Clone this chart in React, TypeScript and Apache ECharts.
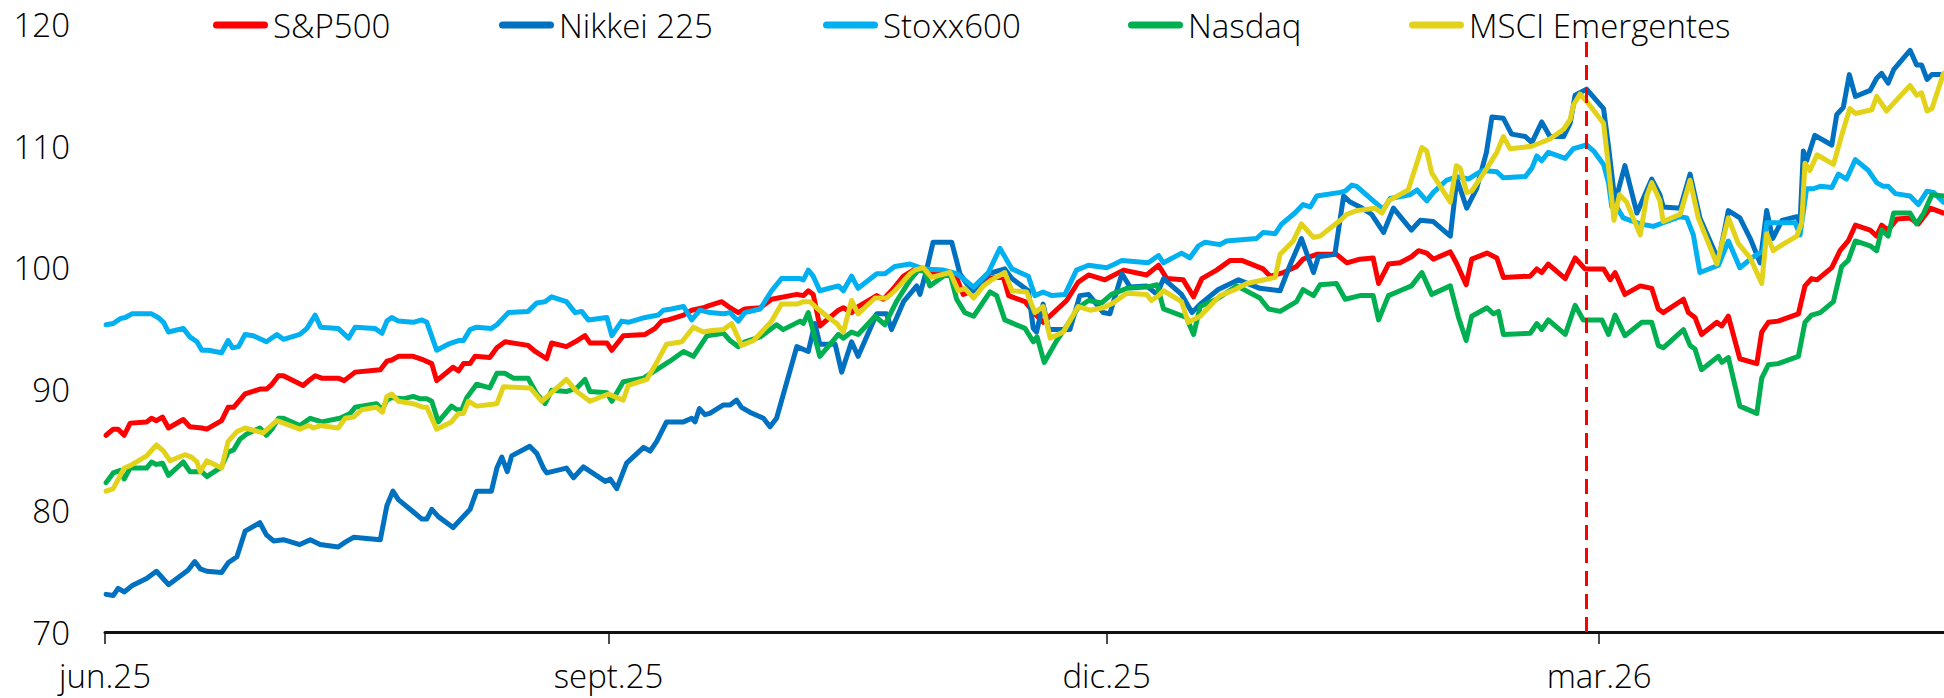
import React, { useEffect, useRef } from "react";
import * as echarts from "echarts";

// x values: days elapsed since 1 June 2025
const tickDays = [0, 92, 183, 273];
const tickLabels = ["jun.25", "sept.25", "dic.25", "mar.26"];
const yTicks = [70, 80, 90, 100, 110, 120];
const markerDay = 270.6; // vertical dashed reference (late Feb 2026)
const markerTop = 119.3;

const seriesNames = ["S&P500", "Nikkei 225", "Stoxx600", "Nasdaq", "MSCI Emergentes"];
const seriesColors = ["#FF0000", "#0070C0", "#00B0F0", "#00B050", "#E2D31A"];

const sp500 = [
[0.2,86.2],[1.5,86.7],[2.4,86.7],[3.5,86.2],[4.6,87.2],[7.6,87.3],[8.5,87.6],[9.4,87.4],[10.5,87.7],[11.6,86.8],[14.3,87.5],[15.5,86.9],[17.7,86.8],[18.6,86.7],[21.3,87.4],[22.5,88.5],[23.5,88.5],[25.6,89.6],[28.3,90.0],[29.5,90.0],[30.5,90.4],[31.7,91.1],[32.6,91.1],[36.2,90.3],[37.5,90.8],[38.4,91.1],[39.6,90.9],[42.6,90.9],[43.7,90.7],[45.7,91.4],[50.3,91.6],[51.5,92.3],[52.4,92.4],
[53.6,92.7],[56.3,92.7],[58.2,92.4],[59.7,92.1],[60.6,90.7],[63.6,91.8],[64.6,91.5],[65.5,92.1],[66.7,92.1],[67.6,92.7],[70.3,92.6],[71.6,93.4],[73.1,93.9],[77.3,93.6],[78.6,93.1],[80.7,92.5],[81.6,93.8],[84.3,93.5],[85.9,93.9],[87.7,94.4],[88.6,93.8],[91.7,93.8],[92.6,93.2],[94.7,94.4],[98.7,94.5],[100.5,95.0],[101.7,95.6],[102.9,95.7],[105.7,96.1],[107.2,96.5],[109.3,96.7],[110.5,96.9],
[112.7,97.2],[114.2,96.7],[115.7,96.3],[116.9,96.6],[119.7,96.7],[121.8,97.4],[126.4,97.8],[127.6,97.7],[128.5,98.1],[129.4,97.8],[130.6,95.2],[134.0,96.5],[134.9,96.7],[136.4,96.3],[137.6,96.8],[141.0,97.7],[142.2,97.4],[143.7,98.1],[145.9,99.3],[147.7,99.8],[149.5,99.8],[151.0,99.5],[155.3,99.5],[156.8,97.8],[158.7,98.1],[161.4,99.1],[164.1,99.3],[165.1,97.7],[168.1,97.2],[169.9,96.2],
[171.4,95.5],[175.7,97.3],[177.8,98.8],[179.7,99.4],[182.7,99.0],[186.1,99.8],[190.3,99.4],[192.5,100.2],[194.0,99.1],[197.0,99.0],[198.9,97.6],[200.4,99.1],[203.1,99.8],[205.6,100.6],[207.7,100.6],[211.6,99.9],[212.9,99.3],[215.3,99.6],[217.7,100.1],[218.9,100.7],[221.4,101.1],[225.0,101.1],[226.9,100.4],[229.3,100.7],
[231.7,100.8],[232.7,98.7],[234.5,100.3],[236.6,100.4],[238.7,100.9],[240.0,101.4],[241.5,101.2],[242.7,100.7],[245.8,101.3],[247.0,100.3],[248.7,98.6],[249.7,100.7],[252.5,101.2],[254.3,100.8],[255.5,99.2],[260.4,99.3],[261.6,99.9],[262.5,99.6],[263.7,100.3],[266.8,99.1],[268.6,100.8],[270.4,99.9],[273.8,99.9],[275.0,99.0],[275.9,99.6],[277.7,97.8],[280.5,98.5],[282.6,98.3],[283.8,96.6],
[284.7,96.3],[288.4,97.4],[289.3,96.3],[290.5,95.9],[291.7,94.5],[294.5,95.5],[295.4,95.2],[296.6,96.0],[298.7,92.5],[301.8,92.1],[302.7,94.7],[303.9,95.5],[305.7,95.6],[309.4,96.2],[310.6,98.5],[311.8,99.1],[312.8,99.0],[315.5,100.0],[317.0,101.4],[318.5,102.2],[319.8,103.5],[322.5,103.1],[323.7,102.6],[324.6,103.5],[325.8,103.1],[327.4,104.0],[329.8,104.1],[331.3,103.6],[333.5,104.9],[335.9,104.5]
];

const nikkei = [
[0.2,73.1],[1.5,73.0],[2.4,73.6],[3.5,73.3],[4.9,73.8],[7.6,74.4],[9.4,75.0],[11.6,73.9],[14.3,74.8],[15.2,75.1],[16.4,75.8],[17.4,75.2],[18.6,75.0],[21.3,74.9],[22.5,75.7],[24.1,76.2],[25.6,78.3],[28.3,79.0],[29.5,78.0],[30.8,77.5],[32.6,77.6],[35.6,77.2],[37.5,77.6],[39.3,77.2],[42.6,77.0],[43.9,77.4],[45.4,77.8],[50.3,77.6],[51.5,80.4],[52.6,81.6],
[53.6,80.9],[56.3,79.9],[57.9,79.3],[58.8,79.3],[59.7,80.1],[60.9,79.5],[63.6,78.6],[66.7,80.1],[67.9,81.6],[70.6,81.6],[71.6,83.5],[72.5,84.4],[73.5,83.2],[74.3,84.5],[77.6,85.3],[78.9,84.7],[80.1,83.5],[80.7,83.1],[84.3,83.5],[85.6,82.7],[87.4,83.6],[91.4,82.4],[92.3,82.6],[93.5,81.8],[95.3,83.9],[98.4,85.2],[99.6,84.9],[100.8,85.7],[102.6,87.3],[105.7,87.3],[107.2,87.6],[107.8,87.3],[108.6,88.4],[109.6,87.9],
[110.5,88.0],[113.0,88.7],[114.2,88.7],[115.4,89.1],[116.3,88.5],[117.8,88.1],[120.3,87.6],[121.5,86.9],[122.7,87.6],[126.4,93.5],[128.5,93.1],[129.7,95.4],[130.6,93.7],[133.4,93.7],[134.6,91.4],[136.4,93.9],[137.6,92.7],[141.0,96.2],[142.8,96.2],[143.7,94.9],[145.9,97.2],[148.3,98.5],[148.9,97.8],[150.1,99.8],[151.3,102.1],[154.7,102.1],[156.2,99.5],[157.7,98.5],[158.7,98.1],[161.4,99.5],[164.4,99.9],[165.7,99.1],[168.7,98.1],[169.6,95.0],
[170.2,94.7],[171.4,97.0],[172.4,94.9],[176.3,94.9],[178.1,97.7],[179.7,97.8],[182.4,96.3],[183.6,96.2],[185.8,99.5],[187.3,98.4],[190.3,98.5],[192.2,97.8],[193.4,99.1],[196.7,97.8],[198.6,96.3],[200.1,97.0],[203.4,98.2],[207.1,99.0],[211.0,98.3],[214.7,98.1],[216.5,100.2],[218.6,102.4],[220.8,99.6],[221.7,100.9],[224.7,101.1],[226.3,105.9],[227.5,105.4],[229.3,105.0],
[231.4,104.4],[233.6,102.9],[235.4,104.9],[238.7,103.1],[240.3,103.9],[242.7,103.8],[245.8,102.6],[247.0,107.3],[248.8,104.9],[250.6,106.5],[252.4,109.5],[253.4,112.4],[255.5,112.3],[257.0,111.0],[259.5,110.8],[260.7,110.3],[262.5,112.0],[264.0,110.8],[266.5,110.8],[267.7,111.9],[268.6,114.2],[270.7,114.7],[273.8,113.1],[274.7,110.0],[275.9,105.4],[277.7,108.4],[279.9,104.5],[282.6,107.3],[284.1,106.0],
[284.7,105.0],[287.8,104.9],[289.6,107.7],[291.4,104.1],[294.8,100.6],[296.6,104.7],[298.7,104.1],[300.6,102.4],[302.4,100.4],[303.6,104.7],[304.7,102.4],[306.4,103.9],[309.1,104.2],[309.7,103.7],[310.3,109.6],[310.9,108.8],[312.4,110.9],[315.5,110.1],[316.4,112.6],[317.6,113.2],[318.7,115.9],[319.8,114.1],[322.5,114.6],[323.7,115.6],[324.6,116.0],[325.8,115.2],[326.8,116.3],[329.8,117.9],[331.0,116.7],[331.9,116.7],[332.9,115.5],[333.8,115.9],[335.9,115.9]
];

const stoxx600 = [
[0.2,95.3],[1.5,95.4],[2.8,95.8],[3.7,95.9],[4.9,96.2],[8.5,96.2],[9.7,95.9],[10.7,95.5],[11.6,94.7],[14.3,95.0],[15.5,94.3],[16.8,93.9],[17.7,93.2],[18.9,93.2],[21.3,93.0],[22.5,94.0],[23.3,93.4],[24.4,93.5],[25.6,94.5],[27.1,94.4],[29.5,93.9],[31.4,94.5],[32.6,94.1],[35.6,94.5],[36.9,95.0],[38.4,96.1],[39.4,95.1],[42.6,95.0],[44.5,94.2],[45.7,95.1],[49.3,95.0],[50.6,94.6],[51.5,95.6],[52.4,95.9],
[53.6,95.6],[56.3,95.5],[57.9,95.7],[58.8,95.5],[60.6,93.2],[62.7,93.7],[64.6,94.0],[65.5,94.0],[66.7,94.9],[67.9,95.1],[70.6,95.0],[71.6,95.3],[73.7,96.3],[77.3,96.4],[78.9,97.1],[80.4,97.2],[81.6,97.6],[84.3,97.2],[85.9,96.3],[87.1,96.4],[88.3,95.7],[91.7,95.9],[92.6,94.4],[94.4,95.6],[95.6,95.5],[98.7,95.9],[101.1,96.1],[102.0,96.5],[103.5,96.6],[105.7,96.8],[107.2,95.7],[108.7,96.5],[110.5,96.3],
[113.0,96.2],[114.2,96.3],[115.7,95.6],[116.9,96.3],[119.7,96.6],[121.8,98.1],[123.6,99.1],[127.0,99.1],[127.6,99.0],[128.5,99.8],[129.4,99.3],[130.6,98.1],[134.0,98.5],[134.9,98.1],[136.4,99.3],[137.6,98.3],[141.0,99.5],[142.5,99.5],[144.3,100.1],[147.1,100.3],[149.5,99.9],[153.2,99.8],[155.6,99.5],[156.8,99.1],[158.7,98.4],[161.4,99.6],[163.5,101.6],[165.7,99.9],[168.7,99.3],[169.9,97.7],
[171.4,98.0],[173.0,97.7],[175.4,97.8],[177.5,99.8],[179.7,100.2],[183.0,100.0],[184.5,100.3],[185.8,100.6],[190.6,100.4],[192.5,101.0],[193.4,100.4],[196.7,101.2],[198.2,100.8],[199.8,101.8],[201.0,102.1],[203.7,101.9],[204.9,102.2],[210.4,102.4],[211.6,102.9],[213.8,102.8],[215.0,103.6],[217.4,104.5],[218.9,105.2],[220.2,105.0],[221.4,105.9],[225.7,106.2],[226.6,106.3],[227.8,106.8],
[228.7,106.7],[232.0,105.4],[233.6,104.8],[234.8,105.7],[238.4,106.0],[239.7,106.4],[241.5,105.5],[242.7,106.2],[245.1,107.2],[247.0,107.5],[249.1,107.3],[250.9,107.8],[251.8,108.0],[254.3,107.9],[255.5,107.4],[259.5,107.5],[260.7,108.2],[261.6,109.2],[262.5,108.8],[263.7,109.5],[266.8,109.0],[268.3,109.8],[270.7,110.1],[272.0,109.6],[273.8,108.5],[274.7,107.0],[275.3,105.0],[276.2,105.0],[277.4,104.1],[280.5,103.6],[282.9,103.4],
[284.7,103.7],[287.8,104.2],[289.0,104.1],[290.2,102.7],[291.4,99.6],[294.8,100.2],[296.6,102.2],[298.7,100.0],[300.9,100.8],[303.0,101.4],[303.6,103.7],[306.4,103.7],[308.8,103.7],[309.7,102.7],[310.9,106.5],[312.1,106.5],[313.4,106.7],[315.5,106.6],[316.7,107.7],[318.2,107.3],[319.8,108.9],[322.2,108.0],[323.7,107.0],[324.9,106.7],[325.8,106.7],[327.1,106.1],[329.8,105.9],[331.3,105.2],[332.9,106.3],[334.1,106.2],[335.9,105.4]
];

const nasdaq = [
[0.2,82.3],[1.5,83.1],[2.8,83.3],[3.5,82.6],[4.6,83.5],[7.6,83.5],[8.5,84.0],[9.4,83.8],[10.5,83.9],[11.6,82.9],[14.3,84.0],[15.5,83.2],[17.7,83.2],[18.6,82.8],[21.3,83.6],[22.5,84.8],[23.5,85.0],[24.7,85.9],[25.9,86.3],[28.3,86.8],[29.5,86.2],[30.5,86.7],[31.7,87.6],[32.6,87.6],[35.6,87.0],[37.5,87.6],[39.6,87.3],[42.9,87.6],[44.8,88.0],[45.7,88.5],[49.6,88.8],[50.6,88.3],[51.5,89.1],[52.4,89.3],
[54.5,89.2],[56.3,89.4],[57.6,89.2],[58.8,89.2],[59.7,89.0],[60.9,87.3],[63.3,88.6],[64.3,88.3],[65.2,88.3],[66.1,89.3],[67.9,90.4],[70.3,90.1],[71.6,91.3],[73.1,91.3],[74.6,90.9],[77.3,90.9],[78.9,89.6],[80.4,88.8],[81.6,89.9],[84.3,89.8],[86.2,90.1],[87.7,90.8],[88.6,89.8],[91.7,89.7],[92.6,89.0],[94.7,90.6],[98.4,90.9],[100.8,91.6],[103.2,92.3],[105.7,93.1],[107.5,92.7],[110.0,94.4],
[113.0,94.6],[114.2,94.0],[115.7,93.5],[116.9,93.9],[119.7,94.3],[122.7,95.3],[123.9,94.9],[127.0,95.6],[127.6,95.4],[128.5,96.3],[130.6,92.7],[134.0,94.5],[134.9,94.2],[136.4,94.7],[137.6,94.5],[140.7,96.0],[142.5,95.3],[144.6,97.2],[147.1,99.0],[148.6,99.8],[149.8,99.7],[150.7,98.5],[153.2,99.3],[154.4,99.5],[155.6,97.4],[157.1,96.3],[158.7,96.0],[161.7,98.0],[162.9,97.7],[164.4,95.7],[168.1,95.0],[169.6,93.9],
[170.3,94.3],[171.6,92.2],[173.9,94.0],[175.7,95.2],[177.8,96.7],[179.7,97.3],[182.1,97.1],[183.9,97.8],[186.7,98.3],[190.3,98.4],[192.2,98.6],[193.4,96.6],[197.6,95.9],[198.9,94.5],[200.1,96.8],[203.1,97.4],[206.8,98.5],[211.0,97.5],[212.6,96.6],[214.7,96.4],[217.7,97.2],[218.9,98.2],[220.8,97.7],[222.0,98.6],[225.0,98.7],[226.6,97.4],[229.3,97.7],
[231.7,97.7],[232.7,95.7],[234.5,97.7],[236.6,98.1],[238.7,98.5],[240.6,99.6],[242.4,97.8],[245.8,98.5],[247.3,95.9],[248.7,94.0],[249.7,96.0],[252.5,96.7],[253.7,96.2],[254.6,96.4],[255.5,94.5],[260.4,94.6],[261.6,95.4],[262.5,94.9],[263.7,95.7],[266.8,94.5],[268.6,96.9],[270.1,95.7],[273.5,95.7],[274.7,94.5],[275.9,96.1],[277.7,94.4],[280.8,95.5],[282.6,95.5],[283.8,93.6],
[284.7,93.4],[288.4,94.9],[289.6,93.6],[290.5,93.3],[291.7,91.6],[294.8,92.7],[295.4,92.2],[296.6,92.6],[298.7,88.6],[301.8,88.0],[302.7,90.9],[303.9,92.0],[305.7,92.1],[309.4,92.7],[310.6,95.5],[311.8,96.1],[313.4,96.3],[315.8,97.2],[317.3,100.1],[318.5,100.6],[319.8,102.2],[322.5,101.8],[323.7,101.4],[324.6,103.1],[325.8,102.6],[326.8,104.5],[329.8,104.5],[331.0,103.6],[332.3,104.5],[333.8,106.0],[335.9,105.9]
];

const msciEm = [
[0.2,81.6],[1.5,81.8],[3.5,83.5],[4.6,83.7],[7.6,84.5],[9.4,85.4],[10.7,84.9],[11.9,84.1],[14.6,84.6],[15.8,84.4],[16.8,84.0],[17.4,83.2],[18.6,84.1],[21.3,83.5],[22.5,85.7],[24.1,86.5],[25.6,86.8],[28.9,86.4],[31.4,87.4],[32.6,87.2],[35.6,86.7],[37.2,87.0],[38.1,86.8],[39.3,87.0],[42.6,86.8],[43.9,87.6],[45.4,87.7],[46.9,88.3],[49.6,88.5],[50.7,88.1],[51.5,89.4],[52.4,89.6],
[53.6,89.0],[56.3,88.8],[58.2,88.5],[58.8,88.5],[60.6,86.7],[63.3,87.3],[64.6,88.0],[65.5,88.0],[66.4,89.0],[67.9,88.6],[71.6,88.8],[72.8,90.2],[77.7,90.1],[79.8,89.0],[84.3,90.8],[86.2,89.8],[88.6,89.0],[92.0,89.6],[93.5,89.3],[94.7,89.1],[95.6,90.3],[99.0,90.8],[100.8,92.2],[102.6,93.7],[105.4,93.9],[107.5,95.1],[109.3,94.7],[110.5,94.8],
[113.0,94.9],[114.5,95.4],[116.3,93.6],[118.5,94.0],[121.8,95.6],[123.6,97.0],[126.4,97.0],[127.6,97.2],[128.8,97.2],[130.0,96.7],[132.2,95.9],[133.7,95.4],[134.9,94.7],[136.4,97.3],[137.6,96.2],[140.7,97.5],[142.8,97.5],[144.3,98.1],[147.1,99.5],[148.0,99.8],[149.5,100.0],[151.0,99.2],[154.4,99.6],[155.9,98.1],[157.1,98.3],[158.7,97.5],[160.5,98.5],[162.0,99.0],[164.4,99.6],[165.7,98.1],[168.4,98.0],[169.9,96.3],
[171.4,96.8],[172.7,94.2],[175.1,94.7],[177.8,96.8],[180.0,96.5],[182.4,96.7],[184.2,97.1],[186.7,97.9],[190.3,97.8],[191.2,97.3],[192.5,97.7],[193.4,98.1],[196.7,97.2],[197.9,95.5],[200.1,96.0],[203.7,97.7],[206.5,98.2],[208.6,98.7],[213.8,99.2],[214.7,101.1],[217.1,102.2],[218.6,103.6],[220.8,102.5],[222.0,102.6],[225.7,103.9],[226.9,104.4],
[228.7,104.7],[232.0,104.9],[233.3,104.5],[234.5,105.5],[238.1,106.4],[240.6,109.9],[241.5,109.6],[242.4,107.8],[245.8,105.4],[246.9,108.4],[247.6,108.2],[248.8,106.2],[249.7,106.3],[252.5,108.2],[254.3,109.5],[255.5,110.8],[256.7,109.8],[260.7,110.0],[264.0,110.6],[266.5,111.4],[267.7,112.2],[268.3,113.4],[269.5,114.3],[270.7,113.7],[273.8,111.9],[274.7,108.3],[275.7,103.9],[276.7,106.0],[278.0,105.4],[280.5,102.7],[281.7,105.9],[282.6,107.0],[284.1,105.5],
[284.7,103.8],[287.8,104.4],[289.6,107.2],[291.1,104.1],[294.5,100.3],[296.6,104.1],[298.4,102.0],[300.6,100.8],[302.7,98.7],[303.6,102.8],[304.8,101.4],[306.1,101.8],[309.1,102.6],[310.0,103.7],[310.6,108.6],[311.5,108.0],[312.8,109.3],[315.8,108.5],[317.3,110.9],[318.8,113.1],[319.8,112.7],[322.8,113.0],[323.7,114.1],[325.5,112.9],[327.1,113.7],[329.8,115.0],[331.0,114.2],[331.9,114.4],[332.9,112.9],[333.8,113.1],[335.9,116.0]
];

const seriesData = [sp500, nikkei, stoxx600, nasdaq, msciEm];

const FONT = "'Open Sans', 'Liberation Sans', sans-serif";
const capsule = "path://M3.5,0 H51.5 A3.5,3.5 0 0 1 51.5,7 H3.5 A3.5,3.5 0 0 1 3.5,0 Z";
const legendLeft = [213, 499, 823, 1128, 1409];

export default function App() {
  const ref = useRef<HTMLDivElement>(null);

  useEffect(() => {
    if (!ref.current) return;
    const chart = echarts.init(ref.current, undefined, { renderer: "svg" });
    const textStyle = { fontFamily: FONT, fontSize: 33, fontWeight: 300, color: "#000" };

    chart.setOption({
      animation: false,
      backgroundColor: "#fff",
      legend: seriesNames.map((n, i) => ({
        data: [n],
        left: legendLeft[i],
        top: 8,
        itemWidth: 55,
        itemHeight: 7,
        icon: capsule,
        selectedMode: false,
        textStyle: { ...textStyle, lineHeight: 34 },
        padding: 0,
      })),
      grid: { left: 105, right: 0, top: 24.8, bottom: 66 },
      xAxis: {
        type: "value",
        min: 0,
        max: 336,
        splitLine: { show: false },
        axisLine: { show: true, lineStyle: { color: "#111", width: 3 } },
        axisTick: { show: true, customValues: tickDays, length: 12, lineStyle: { color: "#111", width: 1.5 } },
        axisLabel: {
          customValues: tickDays,
          margin: 27,
          ...textStyle,
          formatter: (v: number) => {
            const k = tickDays.indexOf(v);
            return k >= 0 ? tickLabels[k] : "";
          },
        },
      },
      yAxis: {
        type: "value",
        min: yTicks[0],
        max: yTicks[yTicks.length - 1],
        interval: 10,
        splitLine: { show: false },
        axisLine: { show: false },
        axisTick: { show: false },
        axisLabel: { margin: 35, ...textStyle },
      },
      series: seriesNames.map((n, i) => ({
        name: n,
        type: "line",
        data: seriesData[i],
        showSymbol: false,
        symbol: "none",
        color: seriesColors[i],
        lineStyle: { width: 5, color: seriesColors[i], cap: "round", join: "round" },
        clip: true,
        ...(i === 0
          ? {
              markLine: {
                silent: true,
                symbol: ["none", "none"],
                label: { show: false },
                lineStyle: { color: "#FF0000", width: 3, type: [15, 8] },
                data: [[{ coord: [markerDay, 70] }, { coord: [markerDay, markerTop] }]],
              },
            }
          : {}),
      })),
    });
    return () => chart.dispose();
  }, []);

  return (
    <div
      ref={ref}
      style={{ position: "absolute", left: 0, top: 0, width: 1944, height: 698 }}
    />
  );
}
